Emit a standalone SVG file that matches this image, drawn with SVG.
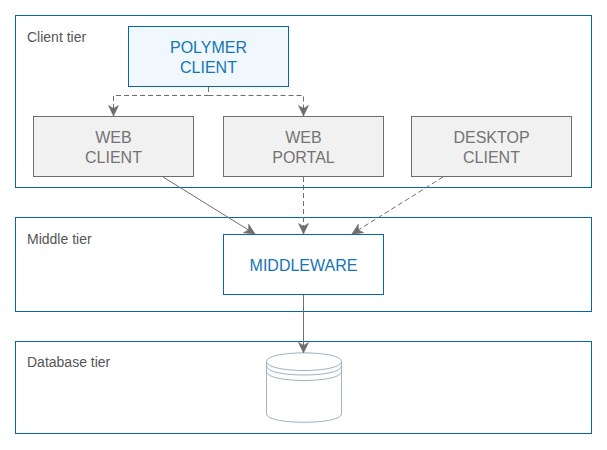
<svg xmlns="http://www.w3.org/2000/svg" width="607" height="450" viewBox="0 0 607 450">
<defs>
<marker id="arrow" markerUnits="userSpaceOnUse" markerWidth="13" markerHeight="12" refX="11" refY="5.500" orient="auto"><path d="M0.500 0.500 L11 5.500 L0.500 10.500 L3.500 5.500 Z" fill="#6e6e6e" stroke="#6e6e6e" stroke-width="0.6"/></marker>
</defs>
<style>
text{font-family:"Liberation Sans",Arial,sans-serif;text-anchor:middle}
.tier{fill:#fff;stroke:#0568a6;stroke-width:1}
.tl{font-size:14px;fill:#555;text-anchor:start}
.g rect{fill:#f1f1f1;stroke:#6e6e6e;stroke-width:1}
.g text{font-size:16px;fill:#747474}
.b text{font-size:16px;fill:#1575b5}
.b rect{stroke:#0568a6;stroke-width:1}
.c{fill:none;stroke:#6e6e6e;stroke-width:1}
.d{stroke-dasharray:5 3}
.db{fill:none;stroke:#9fb2c1;stroke-width:1}
</style>
<g id="client-tier"><rect class="tier" x="15.500" y="15.500" width="576" height="172"/><text class="tl" x="27" y="42">Client tier</text></g>
<g id="middle-tier"><rect class="tier" x="15.500" y="217.500" width="576" height="94"/><text class="tl" x="27" y="244">Middle tier</text></g>
<g id="database-tier"><rect class="tier" x="15.500" y="341.500" width="576" height="92"/><text class="tl" x="27" y="367">Database tier</text></g>
<g id="polymer-client" class="b"><rect x="128.500" y="26.500" width="160" height="60" fill="#f0f8fe"/><text x="208.500" y="53">POLYMER</text><text x="208.500" y="73">CLIENT</text></g>
<g id="web-client" class="g"><rect x="33.500" y="116.500" width="160" height="60"/><text x="113.500" y="143">WEB</text><text x="113.500" y="163">CLIENT</text></g>
<g id="web-portal" class="g"><rect x="223.500" y="116.500" width="160" height="60"/><text x="303.500" y="143">WEB</text><text x="303.500" y="163">PORTAL</text></g>
<g id="desktop-client" class="g"><rect x="411.500" y="116.500" width="160" height="60"/><text x="491.500" y="143">DESKTOP</text><text x="491.500" y="163">CLIENT</text></g>
<g id="middleware" class="b"><rect x="223.500" y="234.500" width="160" height="60" fill="#fff"/><text x="303.500" y="271">MIDDLEWARE</text></g>
<g id="database"><path class="db" d="M266.500 361.500 C266.500 350 341.500 350 341.500 361.500 C341.500 373.500 266.500 373.500 266.500 361.500 Z"/><path class="db" d="M266.500 361.500 V414 C266.500 425 341.500 425 341.500 414 V361.500"/><path class="db" d="M266.500 366 C266.500 378 341.500 378 341.500 366"/><path class="db" d="M266.500 371.500 C266.500 383.500 341.500 383.500 341.500 371.500"/></g>
<g id="connectors">
<path class="c d" d="M208.500 87 V95.500 H113.500 V116" marker-end="url(#arrow)"/>
<path class="c d" d="M208.500 95.500 H303.500 V116" marker-end="url(#arrow)"/>
<path class="c" d="M163 177 L255 234" marker-end="url(#arrow)"/>
<path class="c d" d="M303.500 177 V234" marker-end="url(#arrow)"/>
<path class="c d" d="M443 177 L352 234" marker-end="url(#arrow)"/>
<path class="c" d="M303.500 295 V353" marker-end="url(#arrow)"/>
</g>
</svg>
